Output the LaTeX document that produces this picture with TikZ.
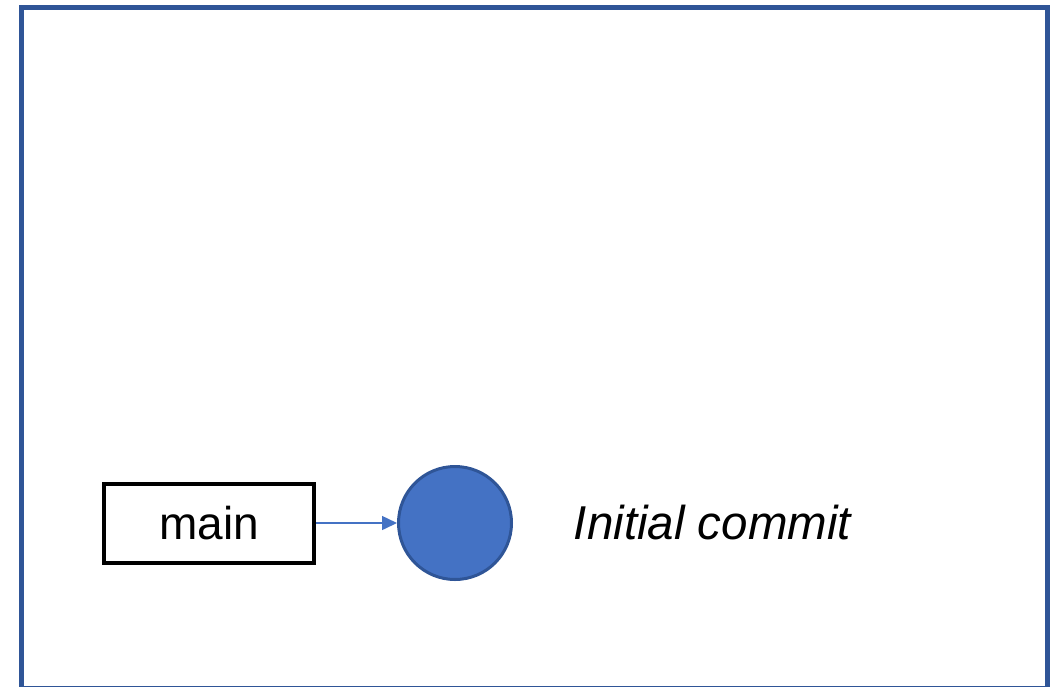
\documentclass[tikz,border=0pt]{standalone}
\usepackage{xcolor}
\usepackage{fontspec}
\setmainfont{Liberation Sans}
\usepackage{tikz}
\usetikzlibrary{arrows.meta}
\definecolor{framecol}{HTML}{2F5597}
\definecolor{commitfill}{HTML}{4472C4}
\tikzset{
  branchbox/.style={draw=black, line width=4pt, minimum width=210pt, minimum height=79pt, inner sep=0pt, font=\fontsize{46}{55}\selectfont},
  commitnode/.style={circle, draw=framecol, fill=commitfill, line width=3pt, minimum size=113pt, inner sep=0pt},
  pointer/.style={draw=commitfill, line width=1.5pt, -{Triangle[length=15pt, width=14pt]}},
  commitlabel/.style={font=\fontsize{47.5}{57}\selectfont\itshape, inner sep=0pt}
}

\begin{document}
\begin{tikzpicture}[x=1pt, y=-1pt]
\useasboundingbox (0,0) rectangle (1056,686);
\draw [framecol, line width=5pt] (21.5,7.5) rectangle (1047.5,688);
\node [branchbox] (main) at (209,523) {main};
\node [commitnode] (c0) at (455,523) {};
\draw [pointer] (main.east) -- (c0.west);
\node [commitlabel] (c0label) at (712.5,523) {Initial commit};
\end{tikzpicture}
\end{document}
